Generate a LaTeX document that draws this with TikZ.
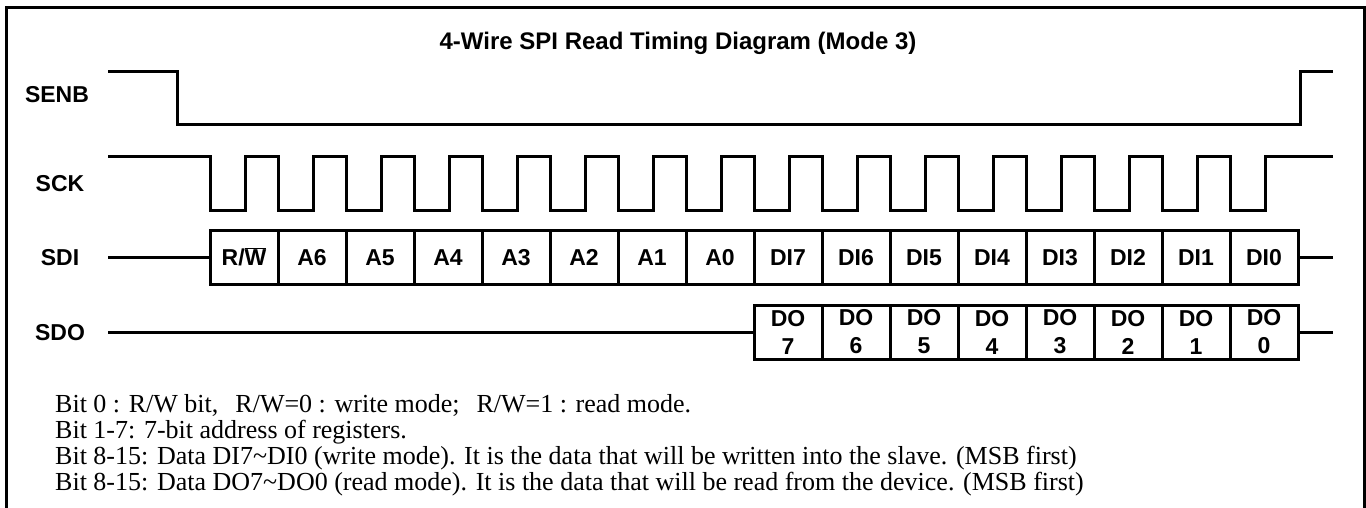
\documentclass[tikz,border=0pt]{standalone}
\usepackage{fontspec}
\setmainfont{Liberation Serif}
\setsansfont{Liberation Sans}
\begin{document}
\begin{tikzpicture}[x=1pt,y=-1pt,
  sig/.style={line width=3pt, line join=miter},
  lbl/.style={font=\sffamily\bfseries\fontsize{23}{27}\selectfont, anchor=base, inner sep=0pt},
  cell/.style={draw, line width=3pt, minimum width=68pt, minimum height=54pt, inner sep=0pt,
    font=\sffamily\bfseries\fontsize{23}{27}\selectfont, text height=16.5pt, text depth=0pt},
  docell/.style={draw, line width=3pt, minimum width=68pt, minimum height=54pt, inner sep=0pt,
    align=center, font=\sffamily\bfseries\fontsize{23}{28}\selectfont},
  note/.style={font=\fontsize{26}{30}\selectfont, anchor=base west, inner sep=0pt}]
\useasboundingbox (0,0) rectangle (1366,508);
% frame
\draw[line width=3pt] (6,512) -- (6,8) -- (1364,8) -- (1364,512);
% title
\node[lbl, font=\sffamily\bfseries\fontsize{24}{28}\selectfont] (title) at (678,50) {4-Wire SPI Read Timing Diagram (Mode 3)};
% signal names
\node[lbl] (senbL) at (57,103) {SENB};
\node[lbl] (sckL) at (60,192) {SCK};
\node[lbl] (sdiL) at (60,265) {SDI};
\node[lbl] (sdoL) at (60,340) {SDO};
% SENB
\coordinate (senbS) at (108,72);
\coordinate (senbE) at (1333,72);
\draw[sig] (senbS) -- (177,72) -- (177,125) -- (1300,125) -- (1300,72) -- (senbE);
% SCK
\coordinate (sckS) at (108,157);
\coordinate (sckE) at (1333,157);
\draw[sig] (sckS) \foreach \k in {0,...,15}{ -- ({210+68*\k},157) -- ({210+68*\k},210) -- ({245+68*\k},210) -- ({245+68*\k},157)} -- (sckE);
% SDI cells
\foreach \t [count=\i from 0] in {{R/$\overline{\hbox{W}}$},A6,A5,A4,A3,A2,A1,A0,DI7,DI6,DI5,DI4,DI3,DI2,DI1,DI0}
  \node[cell] (sdi\i) at ({244+68*\i},257) {\t};
\coordinate (sdiS) at (108,257);
\coordinate (sdiE) at (1333,257);
\draw[sig] (sdiS) -- (sdi0.west);
\draw[sig] (sdi15.east) -- (sdiE);
% SDO cells
\foreach \i in {7,...,0}
  \node[docell] (sdo\i) at ({244+68*(15-\i)},332) {DO\\\i};
\coordinate (sdoS) at (108,332);
\coordinate (sdoE) at (1333,332);
\draw[sig] (sdoS) -- (sdo7.west);
\draw[sig] (sdo0.east) -- (sdoE);
% notes
\node[note] (n1) at (55,412) {Bit 0 : R/W bit,\hspace{17pt}R/W=0 : write mode;\hspace{17pt}R/W=1 : read mode.};
\node[note] (n2) at (55,438) {Bit 1-7: 7-bit address of registers.};
\node[note] (n3) at (55,464) {Bit 8-15: Data DI7\textasciitilde DI0 (write mode). It is the data that will be written into the slave. (MSB first)};
\node[note] (n4) at (55,490) {Bit 8-15: Data DO7\textasciitilde DO0 (read mode). It is the data that will be read from the device. (MSB first)};
\end{tikzpicture}
\end{document}
